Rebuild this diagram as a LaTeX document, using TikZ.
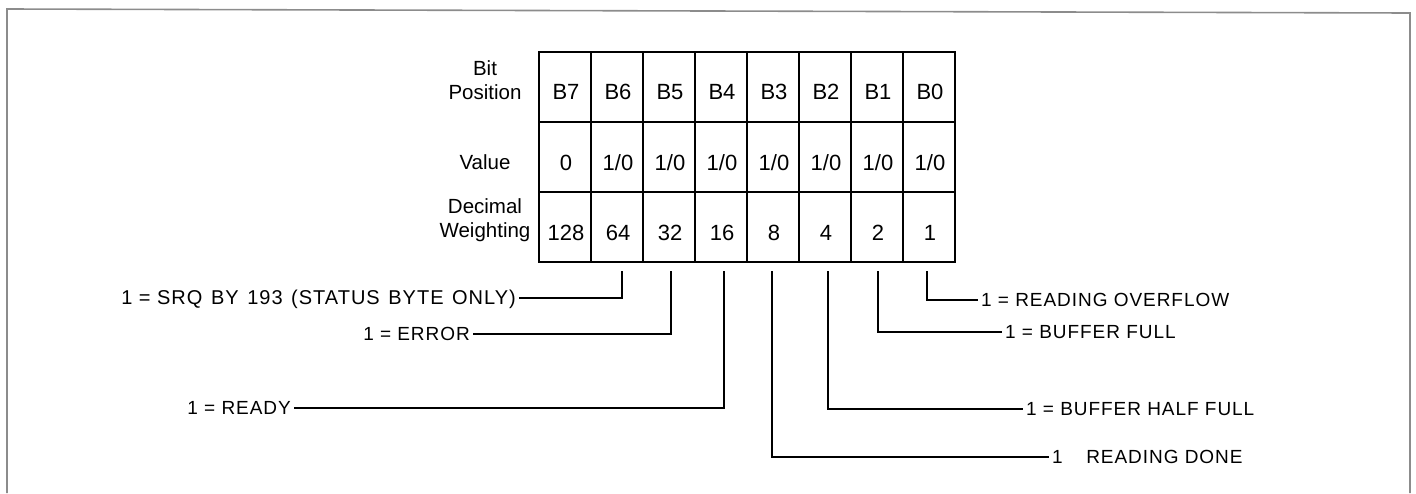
\documentclass[tikz,border=0pt]{standalone}
\usepackage{fontspec}
\setmainfont{Liberation Sans}
\newfontfamily\lblfont[LetterSpace=5]{Liberation Sans}
\begin{document}
\begin{tikzpicture}[x=1pt,y=-1pt,
  tbl/.style={line width=1.5pt},
  conn/.style={line width=2.7pt},
  cell/.style={font=\fontsize{22}{24}\selectfont, inner sep=0pt},
  rowlbl/.style={font=\fontsize{20.5}{24}\selectfont, align=center, inner sep=0pt},
  lbl/.style={font=\lblfont\fontsize{19}{22}\selectfont, inner xsep=3pt, inner ysep=0pt, text height=13.6pt, text depth=0pt},
  framebox/.style={line width=1.6pt, draw=black!45}]
\useasboundingbox (0,0) rectangle (1416,493);
% outer frame (open at the bottom)
\draw[framebox] (7,493) -- (7,9) -- (1410,13) -- (1410,493);
% table grid
\draw[tbl] (539,52) rectangle (955,262);
\draw[tbl] (539,122) -- (955,122);
\draw[tbl] (539,192) -- (955,192);
\foreach \k in {1,...,7} \draw[tbl] (539+52*\k,52) -- (539+52*\k,262);
% row labels
\node[rowlbl] (lpos) at (485,80) {Bit\\Position};
\node[rowlbl] (lval) at (485,162) {Value};
\node[rowlbl] (lwgt) at (485,220) {Decimal\\Weighting};
% cells
\foreach \t [count=\i from 0] in {B7,B6,B5,B4,B3,B2,B1,B0}
  \node[cell] (p\i) at (566+52*\i,92) {\t};
\foreach \t [count=\i from 0] in {0,1/0,1/0,1/0,1/0,1/0,1/0,1/0}
  \node[cell] (v\i) at (566+52*\i,163) {\t};
\foreach \t [count=\i from 0] in {128,64,32,16,8,4,2,1}
  \node[cell] (w\i) at (566+52*\i,233) {\t};
% connector start points under the table
\coordinate (s6) at (622,271);
\coordinate (s5) at (671,271);
\coordinate (s4) at (724,271);
\coordinate (s3) at (772,271);
\coordinate (s2) at (828,271);
\coordinate (s1) at (878,271);
\coordinate (s0) at (927,271);
% labels
\node[lbl, font=\lblfont\fontsize{20}{22}\selectfont, anchor=east] (srq) at (519,298) {1 = SRQ\hspace{2pt} BY\hspace{2pt} 193\hspace{2pt} (STATUS\hspace{2pt} BYTE\hspace{2pt} ONLY)};
\node[lbl, anchor=east] (err) at (473,334) {1 = ERROR};
\node[lbl, anchor=east] (rdy) at (294,408) {1 = READY};
\node[lbl, anchor=west] (done) at (1049,457) {1 \phantom{=} READING DONE};
\node[lbl, anchor=west] (half) at (1023,409) {1 = BUFFER HALF FULL};
\node[lbl, anchor=west] (full) at (1002,332) {1 = BUFFER FULL};
\node[lbl, anchor=west] (ovf) at (978,300) {1 = READING OVERFLOW};
% connectors
\draw[conn] (s6) |- (srq.east);
\draw[conn] (s5) |- (err.east);
\draw[conn] (s4) |- (rdy.east);
\draw[conn] (s3) |- (done.west);
\draw[conn] (s2) |- (half.west);
\draw[conn] (s1) |- (full.west);
\draw[conn] (s0) |- (ovf.west);
\end{tikzpicture}
\end{document}
